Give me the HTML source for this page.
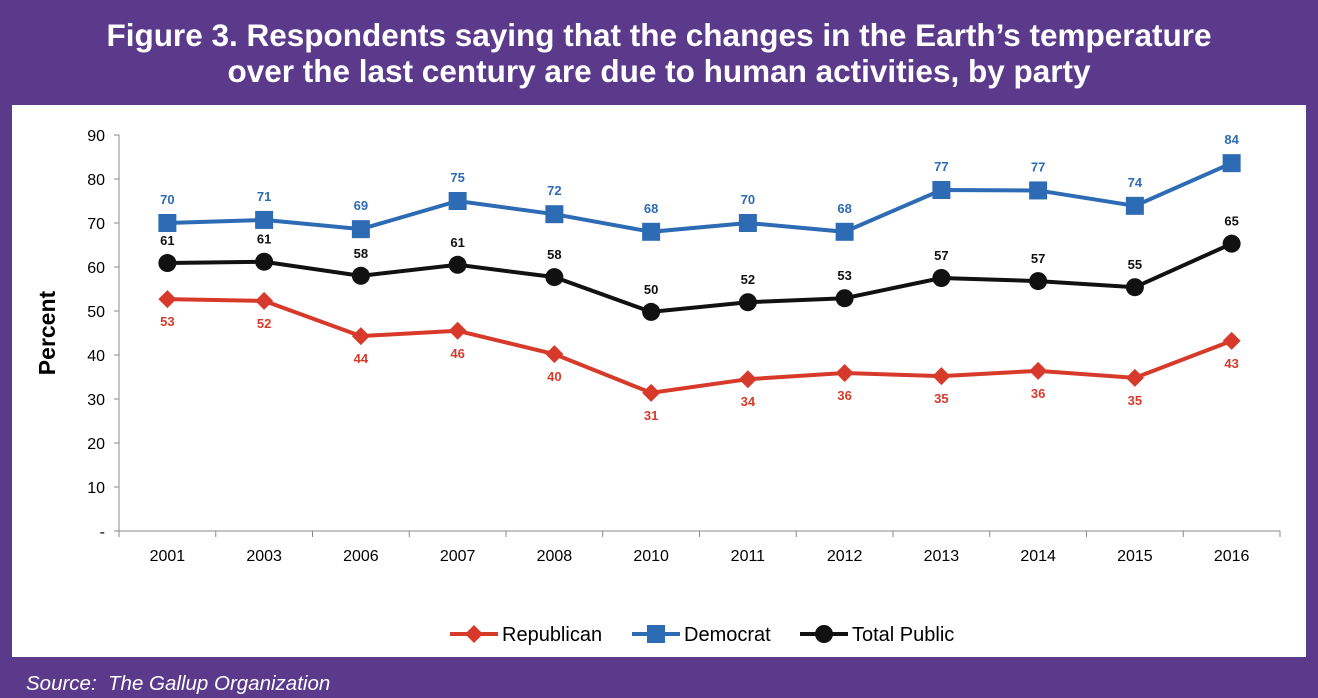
<!DOCTYPE html>
<html><head><meta charset="utf-8"><style>
html,body{margin:0;padding:0}
body{width:1318px;height:698px;background:#5b3a8c;position:relative;overflow:hidden;font-family:"Liberation Sans",sans-serif}
#title{position:absolute;left:0;top:17px;width:1318px;text-align:center;color:#fff;font-weight:bold;font-size:31.5px;line-height:36px}
#panel{position:absolute;left:12px;top:105px;width:1294px;height:552px;background:#fff}
#src{position:absolute;left:26px;top:672px;color:#fff;font-style:italic;font-size:20.5px}
svg{position:absolute;left:0;top:0}
</style></head><body>
<div id="title">Figure 3. Respondents saying that the changes in the Earth’s temperature<br>over the last century are due to human activities, by party</div>
<div id="panel"></div>
<div id="src">Source:&nbsp; The Gallup Organization</div>
<svg id="chart" width="1318" height="698"></svg>
<script>
const years=["2001","2003","2006","2007","2008","2010","2011","2012","2013","2014","2015","2016"];
const dem=[70,70.7,68.6,75,72,68,70,68,77.5,77.4,73.9,83.6];
const demLabels=["70","71","69","75","72","68","70","68","77","77","74","84"];
const tot=[60.9,61.2,58,60.5,57.7,49.8,52,52.9,57.5,56.8,55.4,65.3];
const totLabels=["61","61","58","61","58","50","52","53","57","57","55","65"];
const rep=[52.7,52.3,44.3,45.5,40.2,31.4,34.5,35.9,35.2,36.4,34.8,43.2];
const repLabels=["53","52","44","46","40","31","34","36","35","36","35","43"];
const yTicks=[0,10,20,30,40,50,60,70,80,90];
const NS="http://www.w3.org/2000/svg";
const svg=document.getElementById('chart');
const x0=119,x1=1280,yb=531,yt=135;
const bw=(x1-x0)/years.length;
const X=i=>x0+bw*(i+0.5);
const Y=v=>yb-(v/90)*(yb-yt);
function mk(t,a,p){const e=document.createElementNS(NS,t);for(const k in a)e.setAttribute(k,a[k]);(p||svg).appendChild(e);return e;}
function txt(x,y,s,a){const e=mk('text',Object.assign({x:x,y:y},a));e.textContent=s;return e;}
const ax=mk('g',{});


mk('line',{x1:x0,y1:yt,x2:x0,y2:yb,stroke:'#888','stroke-width':1},ax);
mk('line',{x1:x0,y1:yb,x2:x1,y2:yb,stroke:'#888','stroke-width':1},ax);
yTicks.forEach(v=>{
  mk('line',{x1:x0-5,y1:Y(v),x2:x0,y2:Y(v),stroke:'#888'},ax);
  const t=txt(x0-14,Y(v)+6,v===0?'-':String(v),{'text-anchor':'end','font-size':16,fill:'#000'});
  
  
});
for(let i=0;i<=years.length;i++){mk('line',{x1:x0+bw*i,y1:yb,x2:x0+bw*i,y2:yb+6,stroke:'#888'},ax);}
years.forEach((yr,i)=>{
  const t=txt(X(i),yb+30,yr,{'text-anchor':'middle','font-size':16,fill:'#000'});
  
  
});
const yt2=txt(0,0,'Percent',{'font-size':23,'font-weight':'bold',transform:'translate(55,333) rotate(-90)','text-anchor':'middle'});


function marker(g,type,x,y,c){
  if(type==='sq') mk('rect',{x:x-9,y:y-9,width:18,height:18,fill:c},g);
  else if(type==='di') mk('polygon',{points:`${x},${y-9} ${x+9},${y} ${x},${y+9} ${x-9},${y}`,fill:c},g);
  else mk('circle',{cx:x,cy:y,r:9,fill:c},g);
}
function series(name,vals,labels,c,type,dy){
  const g=mk('g',{});
  
  
  mk('polyline',{points:vals.map((v,i)=>X(i)+','+Y(v)).join(' '),fill:'none',stroke:c,'stroke-width':4},g);
  vals.forEach((v,i)=>{
    marker(g,type,X(i),Y(v),c);
    const t=txt(X(i),Y(v)+dy,labels[i],{'text-anchor':'middle','font-size':13,'font-weight':'bold',fill:c});
    
    
  });
}
series('republican',rep,repLabels,'#d73a2a','di',27);
series('total-public',tot,totLabels,'#111','ci',-18);
series('democrat',dem,demLabels,'#2e6bb5','sq',-19);
const items=[['Republican','#d73a2a','di',450],['Democrat','#2e6bb5','sq',632],['Total Public','#111','ci',800]];
items.forEach(it=>{
  const g=mk('g',{});
  
  
  mk('line',{x1:it[3],y1:634,x2:it[3]+48,y2:634,stroke:it[1],'stroke-width':4},g);
  marker(g,it[2],it[3]+24,634,it[1]);
  txt(it[3]+52,641,it[0],{'font-size':20,fill:'#000'},g);
});
</script>
</body></html>
